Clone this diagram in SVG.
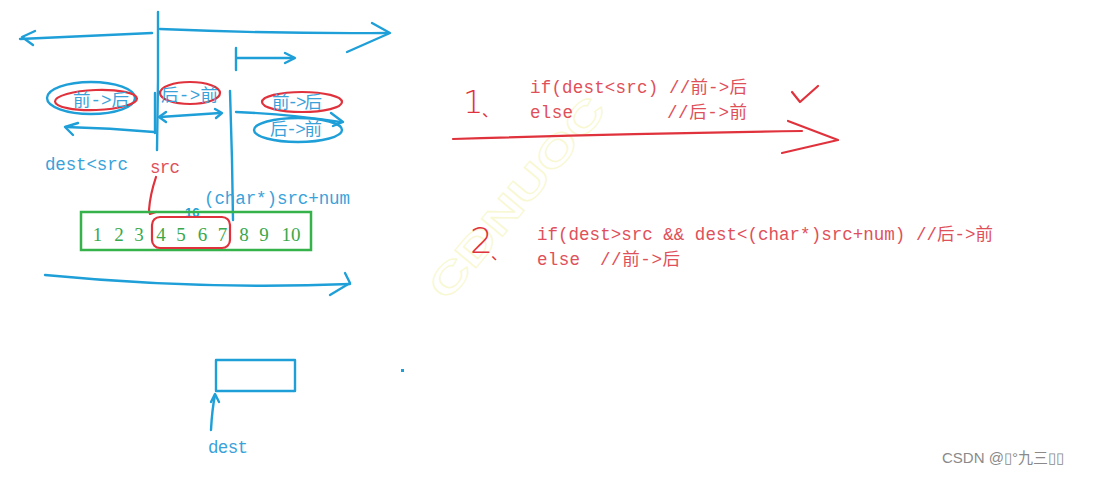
<svg xmlns="http://www.w3.org/2000/svg" width="1095" height="477" viewBox="0 0 1095 477">
<style>
.b{fill:none;stroke:#1e9fd8;stroke-width:2.4;stroke-linecap:round;stroke-linejoin:round}
.r{fill:none;stroke:#e0323c;stroke-width:2.2;stroke-linecap:round;stroke-linejoin:round}
.g{fill:none;stroke:#35b34a;stroke-width:2.5}
.code{font-family:"Liberation Mono","Noto Sans CJK SC",monospace;font-size:17.5px}
.bt{fill:#3aa2da}
.rt{fill:#e0505a}
.num{font-family:"Liberation Serif",serif;font-size:19px;fill:#3aa84a;text-anchor:middle}
.hand{font-family:"DejaVu Sans","Liberation Sans",sans-serif;font-weight:200;fill:#e0323c}
.dun{font-family:"Noto Sans CJK SC",sans-serif;fill:#e0323c}
</style>
<rect width="1095" height="477" fill="#ffffff"/>
<!-- faint watermark -->
<text x="520" y="210" transform="rotate(-50 520 200)" text-anchor="middle" font-family="Liberation Sans, sans-serif" font-weight="bold" font-size="40" fill="none" stroke="#f8f8d2" stroke-width="1.2" textLength="250" lengthAdjust="spacingAndGlyphs">CDNUOC</text>

<g id="connectors">
  <!-- top long arrow -->
  <path class="b" d="M20,39 Q90,36 152,33"/>
  <path class="b" d="M35,31 L22,37 L33,45"/>
  <path class="b" d="M160,29 Q280,34 388,33"/>
  <path class="b" d="M372,23 L390,33 L347,52"/>
  <!-- main vertical -->
  <path class="b" d="M158,12 L158,80 L157,150"/>
  <path class="b" d="M155,93 L155,133"/>
  <!-- small top arrow -->
  <path class="b" d="M236,48 L236,70"/>
  <path class="b" d="M237,58 L294,58"/>
  <path class="b" d="M285,53 L295,58 L285,63"/>
  <!-- left arrow -->
  <path class="b" d="M154,132 Q110,128 66,127"/>
  <path class="b" d="M78,123 L65,127 L73,135"/>
  <!-- double arrow -->
  <path class="b" d="M160,117 L220,113"/>
  <path class="b" d="M166,112 L159,117 L166,122"/>
  <path class="b" d="M215,109 L222,113 L216,118"/>
  <!-- right vertical -->
  <path class="b" d="M230,91 L232,160 L233,220"/>
  <!-- right arrow -->
  <path class="b" d="M236,112 Q290,114 340,122"/>
  <path class="b" d="M331,113 L343,122 L333,126"/>
  <!-- bottom long arrow -->
  <path class="b" d="M45,275 Q200,290 350,284"/>
  <path class="b" d="M345,273 L350,283 L330,295"/>
  <!-- src pointer -->
  <path class="r" d="M156,177 Q150,195 149,210 L150,214 L156,212"/>
  <!-- dest pointer -->
  <path class="b" d="M211,430 Q212,410 215,395"/>
  <path class="b" d="M211,402 L215,394 L219,402"/>
  <!-- red big arrow -->
  <path class="r" d="M453,139 Q620,134 802,131"/>
  <path class="r" d="M788,121 L838,140 L782,153"/>
  <!-- check mark -->
  <path class="r" d="M792,92 L800,102 L818,86"/>
</g>

<g id="left-front-back">
  <ellipse class="b" cx="91" cy="98" rx="44" ry="16"/>
  <ellipse class="r" cx="96" cy="100" rx="41" ry="10" transform="rotate(-2 96 100)"/>
  <text class="code bt" x="73" y="106" font-size="17">前->后</text>
</g>

<g id="mid-back-front">
  <ellipse class="r" cx="190" cy="93" rx="30" ry="11"/>
  <text class="code bt" x="161" y="101" font-size="15" textLength="57">后->前</text>
</g>

<g id="right-front-back">
  <ellipse class="r" cx="302" cy="102" rx="40" ry="10"/>
  <text class="code bt" x="272" y="108" font-size="15" textLength="50">前->后</text>
</g>

<g id="right-back-front">
  <ellipse class="b" cx="298" cy="130" rx="44" ry="12"/>
  <text class="code bt" x="270" y="135" font-size="15" textLength="52">后->前</text>
</g>

<g id="labels">
  <text class="code bt" x="45" y="170" textLength="83">dest&lt;src</text>
  <text class="code rt" x="150" y="173" textLength="30">src</text>
  <text class="code bt" x="204" y="204" textLength="146">(char*)src+num</text>
  <text x="185" y="217" font-family="Liberation Sans, sans-serif" font-size="13" font-weight="bold" fill="#1e9fd8">16</text>
</g>

<g id="array">
  <rect class="g" x="81" y="212" width="230" height="38"/>
  <text class="num" x="97.5" y="241">1</text>
  <text class="num" x="119" y="241">2</text>
  <text class="num" x="139" y="241">3</text>
  <text class="num" x="161" y="241">4</text>
  <text class="num" x="181" y="241">5</text>
  <text class="num" x="202.5" y="241">6</text>
  <text class="num" x="222.5" y="241">7</text>
  <text class="num" x="244" y="241">8</text>
  <text class="num" x="264" y="241">9</text>
  <text class="num" x="291" y="241">10</text>
</g>

<g id="src-range">
  <rect class="r" x="152" y="217" width="78" height="31" rx="8"/>
</g>

<g id="dest-box">
  <rect class="b" x="216" y="360" width="79" height="31"/>
  <text class="code bt" x="208" y="453" textLength="40">dest</text>
  <rect x="401" y="369" width="3" height="3" fill="#1e9fd8"/>
</g>

<g id="rule1">
  <text class="hand" x="463" y="113" font-size="32">1</text>
  <text class="dun" x="482" y="116" font-size="16">、</text>
  <text class="code rt" x="530" y="93" textLength="217">if(dest&lt;src) //前->后</text>
  <text class="code rt" x="530" y="118" textLength="43">else</text>
  <text class="code rt" x="667" y="118" textLength="80">//后->前</text>
</g>

<g id="rule2">
  <text class="hand" x="470" y="253" font-size="36">2</text>
  <text class="dun" x="491" y="259" font-size="16">、</text>
  <text class="code rt" x="537" y="240" textLength="456">if(dest&gt;src &amp;&amp; dest&lt;(char*)src+num) //后->前</text>
  <text class="code rt" x="537" y="265" textLength="43">else</text>
  <text class="code rt" x="600" y="265" textLength="80">//前->后</text>
</g>

<text x="942" y="463" font-family="Liberation Sans, 'Noto Sans CJK SC', sans-serif" font-size="15" fill="#8a8a8a">CSDN @▯°九三▯▯</text>
</svg>
